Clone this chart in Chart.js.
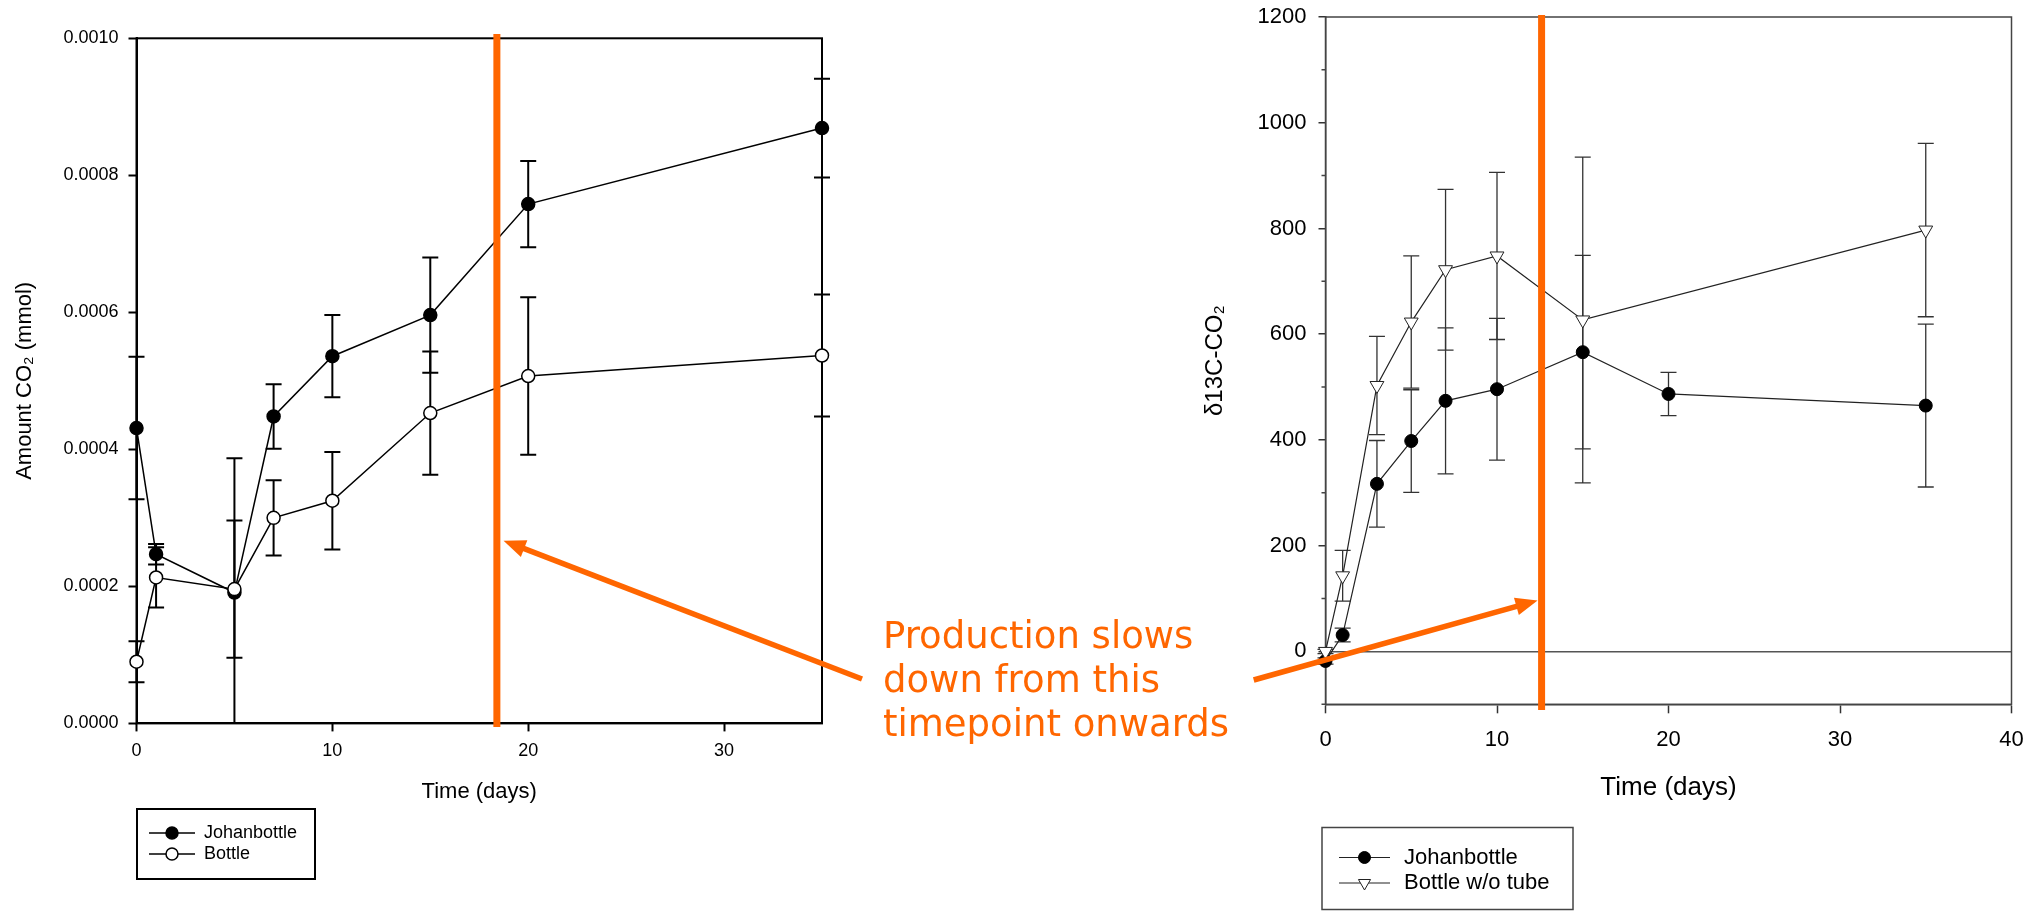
<!DOCTYPE html>
<html>
<head>
<meta charset="utf-8">
<script src="https://cdn.jsdelivr.net/npm/chart.js@4.4.1/dist/chart.umd.min.js"></script>
<style>
  html, body { margin: 0; padding: 0; background: #fff; }
  body { width: 2036px; height: 913px; position: relative; overflow: hidden; }
  #amount { position: absolute; left: 0; top: 0; }
  #delta { position: absolute; left: 1180px; top: 0; }
  .note {
    position: absolute; left: 883px; top: 614px;
    font-family: 'DejaVu Sans', Verdana, sans-serif; font-size: 37px; line-height: 44px;
    color: #ff6600; white-space: nowrap;
  }
</style>
</head>
<body>
<canvas id="amount" width="880" height="913"></canvas>
<canvas id="delta" width="856" height="913"></canvas>
<div class="note">Production slows<br>down from this<br>timepoint onwards</div>
<script>
// left panel - amount of CO2 (mmol)
const daysAmount = [0, 1, 5, 7, 10, 15, 20, 35];
const johanAmount = [0.000431, 0.000247, 0.000191, 0.000448, 0.000536, 0.000596, 0.000758, 0.000869];
const johanAmountErr = [0.000104, 0.000015, 0.000196, 0.000047, 0.00006, 0.000084, 0.000063, 0.000072];
const bottleAmount = [0.00009, 0.000213, 0.000196, 0.0003, 0.000325, 0.000453, 0.000507, 0.000537];
const bottleAmountErr = [0.00003, 0.000044, 0.0001, 0.000055, 0.000071, 0.00009, 0.000115, 0.000089];
const amountTicks = [0, 0.0002, 0.0004, 0.0006, 0.0008, 0.001];

// right panel - delta 13C of CO2
const daysJohanDelta = [0, 1, 3, 5, 7, 10, 15, 20, 35];
const johanDelta = [-18, 31, 317, 398, 474, 496, 566, 487, 465];
const johanDeltaErr = [6, 13, 82, 97, 138, 134, 183, 41, 154];
const daysBottleDelta = [0, 1, 3, 5, 7, 10, 15, 35];
const bottleDelta = [0, 143, 503, 623, 722, 748, 627, 797];
const bottleDeltaErr = [4, 48, 93, 125, 152, 158, 308, 164];
const deltaTicks = [0, 200, 400, 600, 800, 1000, 1200];

const ORANGE = '#ff6600';
Chart.defaults.font.family = "'Liberation Sans', Arial, sans-serif";
Chart.defaults.color = '#000';

const pts = (xs, ys) => xs.map((x, i) => ({ x: x, y: ys[i] }));

// error bars, drawn under the markers
const errorBars = {
  id: 'errorBars',
  beforeDatasetsDraw(chart, args, opts) {
    const { ctx, scales: { x, y } } = chart;
    ctx.save();
    ctx.strokeStyle = opts.color;
    ctx.lineWidth = opts.width;
    chart.data.datasets.forEach(ds => {
      if (!ds.errors) return;
      ds.data.forEach((p, j) => {
        const e = ds.errors[j];
        const hi = p.y + e, lo = p.y - e;
        const px = x.getPixelForValue(p.x);
        const top = y.getPixelForValue(Math.min(hi, y.max));
        const bot = y.getPixelForValue(Math.max(lo, y.min));
        ctx.beginPath();
        ctx.moveTo(px, top); ctx.lineTo(px, bot);
        if (hi <= y.max) { ctx.moveTo(px - opts.cap, top); ctx.lineTo(px + opts.cap, top); }
        if (lo >= y.min) { ctx.moveTo(px - opts.cap, bot); ctx.lineTo(px + opts.cap, bot); }
        ctx.stroke();
      });
    });
    ctx.restore();
  }
};

// box round the plot area (+ optional short minor ticks on y)
const frame = {
  id: 'frame',
  beforeDatasetsDraw(chart, args, opts) {
    const { ctx, chartArea: a, scales: { y } } = chart;
    ctx.save();
    ctx.strokeStyle = opts.color;
    ctx.lineWidth = opts.width;
    ctx.strokeRect(a.left, a.top, a.right - a.left, a.bottom - a.top);
    if (opts.minorStep) {
      ctx.beginPath();
      for (let v = y.min; v <= y.max; v += opts.minorStep) {
        if (v % (2 * opts.minorStep) === 0) continue;
        const py = y.getPixelForValue(v);
        ctx.moveTo(a.left - opts.minorLength, py);
        ctx.lineTo(a.left, py);
      }
      ctx.stroke();
    }
    ctx.restore();
  }
};

// orange marker line + arrow
const marker = {
  id: 'marker',
  afterDraw(chart, args, opts) {
    const { ctx, scales: { x } } = chart;
    const lx = x.getPixelForValue(opts.day);
    ctx.save();
    ctx.strokeStyle = ORANGE;
    ctx.fillStyle = ORANGE;
    ctx.lineWidth = 7;
    ctx.beginPath();
    ctx.moveTo(lx, opts.y0); ctx.lineTo(lx, opts.y1);
    ctx.stroke();
    const tx = lx + opts.tipDx, ty = opts.tipY;
    const [fx, fy] = opts.tail;
    const ang = Math.atan2(ty - fy, tx - fx);
    const hl = 22, hw = 9;
    const bx = tx - Math.cos(ang) * hl, by = ty - Math.sin(ang) * hl;
    ctx.lineWidth = 5.5;
    ctx.beginPath();
    ctx.moveTo(fx, fy); ctx.lineTo(bx + Math.cos(ang) * 2, by + Math.sin(ang) * 2);
    ctx.stroke();
    ctx.beginPath();
    ctx.moveTo(tx, ty);
    ctx.lineTo(bx + Math.sin(ang) * hw, by - Math.cos(ang) * hw);
    ctx.lineTo(bx - Math.sin(ang) * hw, by + Math.cos(ang) * hw);
    ctx.closePath();
    ctx.fill();
    ctx.restore();
  }
};

// boxed legend below the plot
const boxLegend = {
  id: 'boxLegend',
  afterDraw(chart, args, opts) {
    const { ctx } = chart;
    const [bx, by, bw, bh] = opts.box;
    ctx.save();
    ctx.strokeStyle = opts.borderColor;
    ctx.lineWidth = opts.borderWidth;
    ctx.strokeRect(bx, by, bw, bh);
    ctx.font = opts.fontSize + "px 'Liberation Sans', Arial, sans-serif";
    ctx.textBaseline = 'middle';
    opts.order.forEach((di, r) => {
      const ds = chart.data.datasets[di];
      const ry = opts.rows[r];
      ctx.strokeStyle = ds.borderColor;
      ctx.lineWidth = ds.borderWidth;
      ctx.beginPath();
      ctx.moveTo(opts.sample[0], ry); ctx.lineTo(opts.sample[1], ry);
      ctx.stroke();
      ctx.fillStyle = ds.pointBackgroundColor;
      ctx.strokeStyle = ds.pointBorderColor;
      ctx.lineWidth = ds.pointBorderWidth;
      Chart.helpers.drawPoint(ctx, {
        pointStyle: ds.pointStyle, rotation: ds.pointRotation || 0,
        radius: opts.markerRadius[r], borderWidth: ds.pointBorderWidth
      }, (opts.sample[0] + opts.sample[1]) / 2, ry);
      ctx.fillStyle = '#000';
      ctx.fillText(ds.label, opts.textX, ry);
    });
    ctx.restore();
  }
};

const keepTicks = list => scale => {
  scale.ticks = scale.ticks.filter(t => list.some(v => Math.abs(v - t.value) < 1e-9));
};
const fixBox = (w, h) => scale => {
  if (w !== null) scale.width = w;
  if (h !== null) scale.height = h;
  scale.paddingLeft = scale.paddingRight = scale.paddingTop = scale.paddingBottom = 0;
};

new Chart(document.getElementById('amount'), {
  type: 'scatter',
  plugins: [errorBars, frame, marker, boxLegend],
  data: {
    datasets: [
      {
        label: 'Johanbottle', data: pts(daysAmount, johanAmount), errors: johanAmountErr,
        showLine: true, borderColor: '#000', borderWidth: 1.5,
        pointStyle: 'circle', pointRadius: 6.5, pointBackgroundColor: '#000',
        pointBorderColor: '#000', pointBorderWidth: 1.5, clip: false, order: 2
      },
      {
        label: 'Bottle', data: pts(daysAmount, bottleAmount), errors: bottleAmountErr,
        showLine: true, borderColor: '#000', borderWidth: 1.5,
        pointStyle: 'circle', pointRadius: 6.5, pointBackgroundColor: '#fff',
        pointBorderColor: '#000', pointBorderWidth: 1.5, clip: false, order: 1
      }
    ]
  },
  options: {
    responsive: false, animation: false, devicePixelRatio: 1, events: [],
    layout: { padding: { left: 0, top: 38.3, right: 58, bottom: 108 } },
    plugins: {
      legend: { display: false }, tooltip: { enabled: false },
      errorBars: { color: '#000', width: 2, cap: 8 },
      frame: { color: '#000', width: 2 },
      marker: { day: 18.4, y0: 34, y1: 727, tipDx: 6.7, tipY: 540.7, tail: [862, 679] },
      boxLegend: {
        box: [137, 809, 178, 70], rows: [833, 854], sample: [149, 195], textX: 204,
        fontSize: 18, borderColor: '#000', borderWidth: 2, order: [0, 1], markerRadius: [6, 6]
      }
    },
    scales: {
      x: {
        type: 'linear', min: 0, max: 35,
        afterBuildTicks: keepTicks([0, 10, 20, 30]),
        afterFit: fixBox(null, 81.6),
        ticks: { stepSize: 10, padding: 9, font: { size: 18 }, maxRotation: 0, autoSkip: false },
        grid: { drawOnChartArea: false, tickLength: 8, tickColor: '#000', tickWidth: 2 },
        border: { color: '#000', width: 2 },
        title: { display: true, text: 'Time (days)', font: { size: 22 }, padding: 0 }
      },
      y: {
        type: 'linear', min: 0, max: 0.001,
        afterBuildTicks: keepTicks(amountTicks),
        afterFit: fixBox(136.5, null),
        ticks: { stepSize: 0.0002, padding: 10, font: { size: 18 }, callback: v => v.toFixed(4) },
        grid: { drawOnChartArea: false, tickLength: 8, tickColor: '#000', tickWidth: 2 },
        border: { color: '#000', width: 2 },
        title: { display: true, text: 'Amount CO₂ (mmol)', font: { size: 22 }, padding: { top: 12, bottom: 0 } }
      }
    }
  }
});

new Chart(document.getElementById('delta'), {
  type: 'scatter',
  plugins: [errorBars, frame, marker, boxLegend],
  data: {
    datasets: [
      {
        label: 'Johanbottle', data: pts(daysJohanDelta, johanDelta), errors: johanDeltaErr,
        showLine: true, borderColor: '#222', borderWidth: 1.2,
        pointStyle: 'circle', pointRadius: 6.5, pointBackgroundColor: '#000',
        pointBorderColor: '#000', pointBorderWidth: 1, clip: false, order: 2
      },
      {
        label: 'Bottle w/o tube', data: pts(daysBottleDelta, bottleDelta), errors: bottleDeltaErr,
        showLine: true, borderColor: '#222', borderWidth: 1.2,
        pointStyle: 'triangle', pointRotation: 180, pointRadius: 8, pointBackgroundColor: '#fff',
        pointBorderColor: '#222', pointBorderWidth: 1, clip: false, order: 1
      }
    ]
  },
  options: {
    responsive: false, animation: false, devicePixelRatio: 1, events: [],
    layout: { padding: { left: 0, top: 17, right: 24.5, bottom: 109.4 } },
    plugins: {
      legend: { display: false }, tooltip: { enabled: false },
      errorBars: { color: '#333', width: 1.3, cap: 8 },
      frame: { color: '#444', width: 1.5, minorStep: 100, minorLength: 4 },
      marker: { day: 12.6, y0: 15, y1: 710, tipDx: -4, tipY: 600.5, tail: [73.7, 680] },
      boxLegend: {
        box: [142, 827.5, 251, 82], rows: [857.5, 883], sample: [159, 210], textX: 224,
        fontSize: 22, borderColor: '#444', borderWidth: 1.5, order: [0, 1], markerRadius: [6, 7]
      }
    },
    scales: {
      x: {
        type: 'linear', min: 0, max: 40,
        afterFit: fixBox(null, 99.3),
        ticks: { stepSize: 10, padding: 13, font: { size: 22 }, maxRotation: 0, autoSkip: false },
        grid: { drawOnChartArea: false, tickLength: 9, tickColor: '#333', tickWidth: 1.5 },
        border: { color: '#444', width: 1.5 },
        title: { display: true, text: 'Time (days)', font: { size: 26 }, padding: 0 }
      },
      y: {
        type: 'linear', min: -100, max: 1200,
        afterBuildTicks: keepTicks(deltaTicks),
        afterFit: fixBox(145.5, null),
        ticks: { stepSize: 200, padding: 12, font: { size: 22 }, callback: v => String(v) },
        grid: {
          drawOnChartArea: true, lineWidth: 1.5,
          color: c => (c.tick && c.tick.value === 0 ? '#555' : 'rgba(0,0,0,0)'),
          tickLength: 7, tickColor: '#333', tickWidth: 1.5
        },
        border: { color: '#444', width: 1.5 },
        title: { display: true, text: 'δ13C-CO₂', font: { size: 24 }, padding: { top: 21, bottom: 0 } }
      }
    }
  }
});
</script>
</body>
</html>
